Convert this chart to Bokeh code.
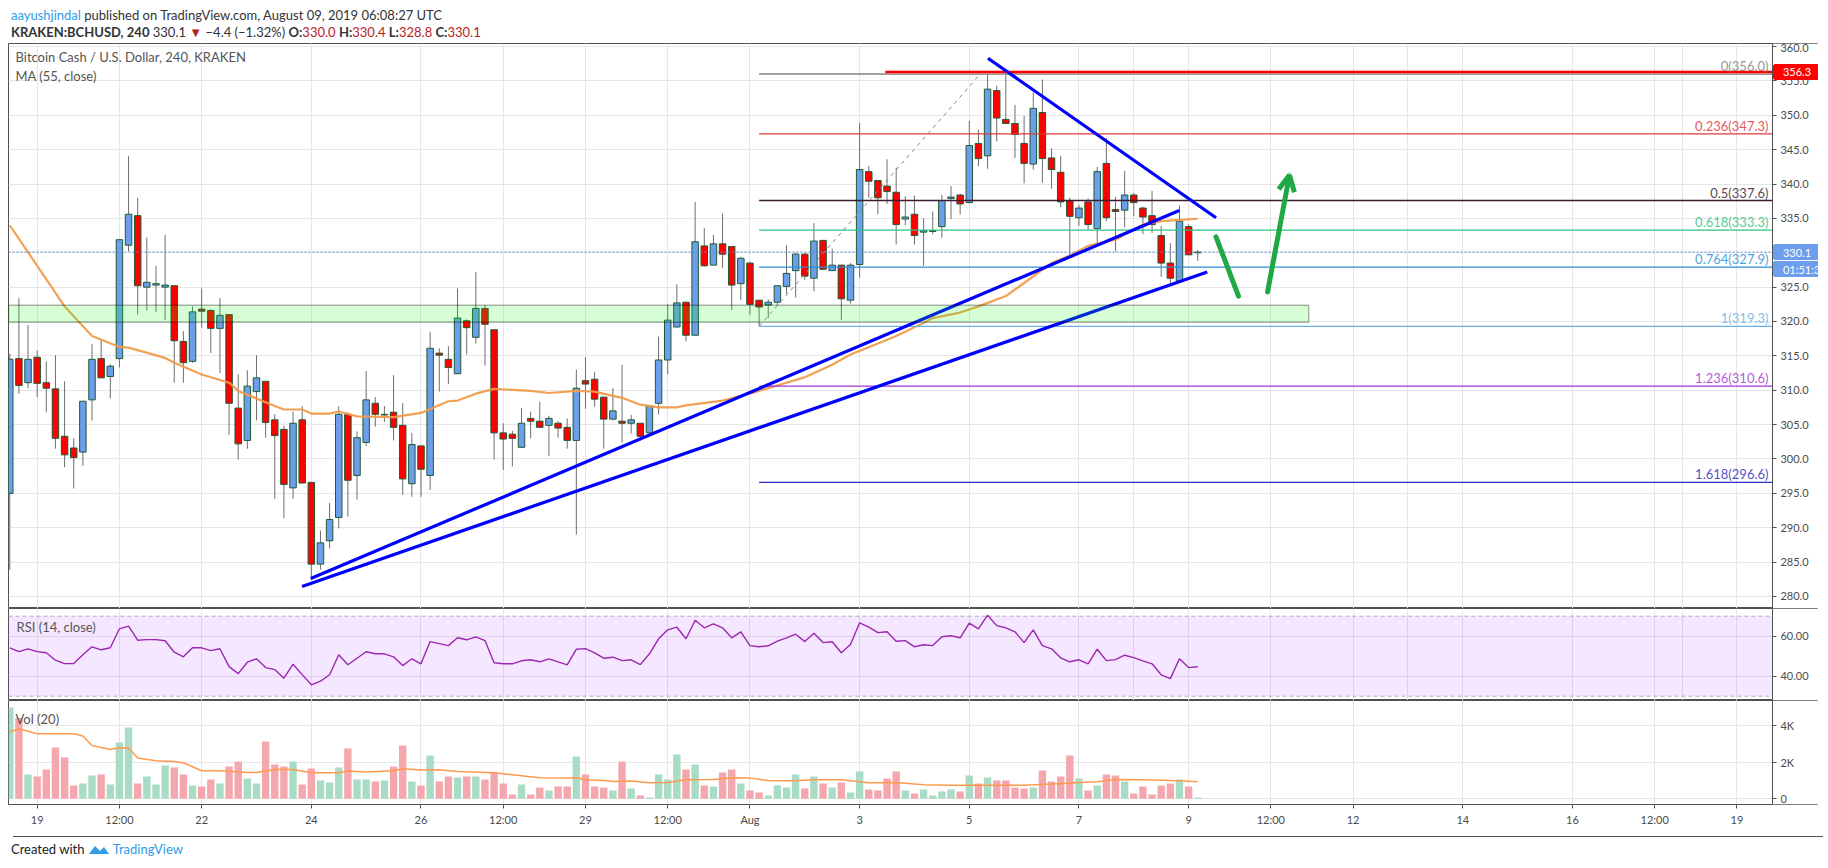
import numpy as np
from bokeh.plotting import figure
from bokeh.models import (Range1d, FixedTicker, Grid, BoxAnnotation, Label, Spacer,
                          ColumnDataSource, Div, NumeralTickFormatter, Arrow, OpenHead)
from bokeh.layouts import column, row
from bokeh.embed import file_html
from bokeh.resources import INLINE

# ---------------- data ----------------
opens = [295.0, 314.6, 311.1, 314.8, 311.1, 310.2, 303.3, 301.6, 301.0, 308.6,
         314.6, 312.0, 314.6, 331.1, 335.4, 325.0, 325.3, 325.0, 325.2, 317.1,
         314.2, 321.8, 321.6, 319.0, 321.0, 307.4, 302.7, 309.8, 311.3, 305.7,
         304.3, 295.8, 305.7, 296.6, 284.7, 288.1, 291.5, 306.5, 297.6, 302.4,
         308.1, 306.4, 306.8, 304.9, 296.4, 301.9, 297.6, 315.4, 314.5, 312.4,
         320.1, 317.7, 321.9, 318.8, 303.8, 303.6, 301.7, 305.9, 305.5, 304.9,
         305.2, 304.6, 302.7, 311.4, 311.6, 309.0, 305.8, 305.5, 305.2, 305.2,
         303.8, 308.1, 314.4, 319.2, 322.8, 318.0, 331.0, 328.2, 331.3, 330.9,
         325.5, 328.5, 323.1, 322.4, 322.8, 325.1, 327.4, 329.8, 326.3, 331.8,
         327.4, 328.2, 323.1, 328.3, 341.8, 340.5, 339.7, 338.8, 334.9, 335.6,
         333.0, 333.1, 333.8, 337.9, 338.4, 337.3, 345.9, 344.1, 353.6, 349.4,
         348.8, 345.9, 342.9, 350.4, 343.8, 341.7, 337.6, 335.1, 337.4, 333.5,
         343.0, 336.3, 336.2, 338.4, 336.5, 335.4, 332.5, 328.5, 325.9, 333.8,
         330.0]
highs = [315.3, 323.4, 319.5, 315.8, 314.2, 315.1, 311.3, 303.0, 308.4, 316.7,
         317.3, 313.8, 331.9, 344.1, 338.0, 332.2, 328.1, 332.6, 325.3, 318.6,
         322.2, 324.8, 321.8, 323.4, 321.0, 312.3, 312.9, 315.1, 311.3, 306.5,
         304.8, 306.9, 307.7, 296.6, 289.6, 293.6, 307.7, 306.8, 304.0, 312.8,
         309.0, 307.7, 312.2, 308.1, 303.8, 302.0, 318.5, 316.1, 316.4, 324.8,
         320.3, 327.2, 322.4, 318.8, 305.2, 304.1, 307.4, 306.9, 308.3, 306.3,
         305.5, 305.9, 313.0, 314.8, 312.7, 309.0, 310.3, 313.7, 306.4, 305.2,
         307.7, 317.8, 322.5, 325.4, 322.8, 337.4, 333.6, 332.6, 335.7, 330.9,
         329.4, 328.7, 323.1, 323.2, 325.2, 331.1, 330.0, 330.0, 334.3, 331.8,
         330.6, 328.2, 328.5, 348.9, 342.6, 340.5, 343.6, 342.4, 338.2, 338.3,
         335.0, 336.0, 338.4, 339.7, 338.6, 349.2, 347.9, 356.0, 354.3, 355.9,
         351.5, 349.9, 353.3, 355.2, 345.2, 344.1, 338.0, 337.0, 337.9, 342.5,
         346.7, 338.1, 341.9, 338.7, 336.7, 339.0, 333.9, 331.4, 336.9, 334.1,
         330.4]
lows = [283.9, 309.5, 310.3, 309.0, 306.8, 301.5, 298.8, 295.7, 299.0, 305.6,
        311.8, 308.8, 313.3, 330.2, 321.0, 321.6, 321.4, 320.2, 311.1, 311.1,
        314.0, 319.1, 315.4, 312.5, 303.5, 299.9, 301.5, 305.6, 303.1, 294.2,
        291.4, 294.2, 296.5, 282.4, 283.9, 287.0, 289.9, 291.6, 294.1, 301.9,
        304.7, 305.4, 302.7, 294.8, 294.5, 294.5, 295.5, 309.8, 310.9, 312.4,
        315.2, 316.8, 313.6, 299.9, 298.4, 298.9, 301.7, 303.0, 304.5, 300.4,
        303.1, 301.5, 289.0, 307.3, 307.6, 301.5, 305.6, 302.4, 303.7, 302.7,
        303.4, 306.5, 312.3, 319.1, 317.1, 318.0, 328.0, 328.2, 327.8, 321.7,
        323.1, 321.0, 319.3, 320.5, 322.4, 324.0, 323.5, 326.0, 324.4, 327.5,
        327.4, 320.2, 322.6, 326.4, 338.0, 335.6, 337.1, 331.2, 334.0, 331.2,
        328.1, 332.7, 332.2, 334.9, 335.6, 337.2, 342.6, 342.2, 346.2, 348.8,
        343.8, 340.1, 342.1, 340.2, 339.3, 336.6, 329.5, 333.9, 333.3, 331.1,
        334.6, 330.2, 333.7, 335.3, 332.7, 332.9, 326.5, 325.5, 325.6, 329.7,
        328.8]
closes = [314.5, 310.7, 314.5, 311.0, 310.3, 303.0, 300.6, 300.2, 308.4, 314.5,
          311.8, 313.5, 331.9, 335.6, 325.2, 325.7, 325.5, 325.3, 317.2, 314.0,
          321.4, 321.5, 319.0, 320.9, 308.1, 302.2, 310.6, 311.8, 305.3, 303.4,
          296.3, 305.2, 296.5, 284.7, 287.8, 291.2, 306.5, 296.9, 303.1, 308.6,
          306.5, 306.5, 304.6, 297.1, 302.1, 298.5, 316.1, 315.1, 313.3, 320.5,
          319.1, 321.9, 319.6, 303.8, 302.9, 303.0, 305.2, 305.5, 304.6, 305.9,
          304.5, 302.7, 310.3, 310.9, 308.7, 305.8, 307.0, 305.2, 305.7, 303.3,
          307.7, 314.4, 320.2, 322.7, 318.0, 331.6, 328.1, 331.3, 329.8, 325.3,
          329.2, 322.5, 322.1, 322.8, 325.2, 327.0, 329.8, 326.6, 331.7, 327.6,
          328.2, 323.3, 328.2, 342.1, 340.4, 338.0, 338.9, 334.1, 335.2, 332.5,
          333.2, 333.2, 337.6, 338.1, 337.1, 345.6, 343.7, 353.8, 349.6, 348.8,
          347.2, 343.0, 351.0, 343.7, 342.1, 337.4, 335.3, 336.5, 334.1, 341.8,
          335.1, 336.0, 338.4, 337.3, 335.2, 334.1, 328.5, 326.3, 334.6, 329.7,
          330.1]
volumes = [4987, 4404, 1329, 1219, 1602, 2803, 2257, 728, 837, 1274,
           1329, 783, 3076, 3895, 837, 1219, 783, 1820, 1711, 1329,
           728, 673, 1056, 837, 1765, 2038, 1110, 837, 3130, 1875,
           1765, 2038, 783, 1656, 1001, 892, 1711, 2748, 1056, 1056,
           946, 1001, 1765, 2912, 946, 728, 2366, 946, 1219, 1165,
           1219, 1219, 1056, 1420, 837, 237, 783, 237, 619, 455,
           673, 673, 2311, 1329, 673, 619, 455, 2038, 564, 182,
           73, 1329, 1056, 2421, 1602, 1875, 728, 673, 1438, 1602,
           837, 455, 346, 182, 728, 619, 1329, 564, 1219, 837,
           619, 892, 346, 1492, 510, 455, 1110, 1492, 455, 291,
           510, 182, 400, 510, 400, 1274, 837, 1165, 1001, 1001,
           619, 564, 619, 1547, 946, 1219, 2366, 1110, 455, 728,
           1329, 1274, 946, 291, 673, 237, 728, 837, 1056, 673,
           73]
rsi = [54.2, 52.3, 53.7, 52.3, 51.7, 48.0, 46.3, 46.3, 50.7, 54.7,
       53.2, 54.2, 63.7, 65.0, 58.0, 58.3, 58.3, 57.7, 52.0, 49.7,
       54.2, 54.2, 52.8, 53.7, 44.8, 41.3, 47.0, 48.7, 44.3, 43.3,
       39.0, 46.0, 40.8, 35.7, 37.5, 40.7, 50.7, 45.7, 49.0, 52.2,
       51.2, 51.2, 49.7, 45.3, 48.7, 46.2, 57.3, 56.3, 55.3, 59.2,
       58.2, 59.7, 57.8, 46.7, 46.2, 46.2, 47.7, 48.2, 47.2, 48.7,
       47.2, 45.7, 53.5, 53.8, 51.7, 49.0, 49.5, 47.8, 48.2, 45.8,
       51.2, 58.7, 63.2, 64.5, 58.7, 68.0, 64.2, 66.2, 64.2, 59.2,
       62.2, 55.3, 54.7, 55.2, 57.5, 59.2, 61.0, 57.3, 61.5, 56.8,
       57.2, 51.7, 55.8, 66.7, 64.5, 61.8, 62.2, 57.5, 57.8, 54.7,
       55.7, 55.3, 59.7, 60.2, 59.2, 66.5, 63.7, 70.5, 65.3, 64.2,
       62.2, 56.8, 63.2, 55.3, 53.7, 49.2, 47.2, 48.2, 46.2, 53.5,
       47.8, 48.3, 50.5, 49.3, 47.7, 46.2, 40.7, 38.8, 48.7, 44.3,
       44.7]
# MA(55) of close, read at these bar indices
ma_bar = [0, 6, 9, 12, 13, 17, 18, 21, 24, 25, 29, 30, 32, 33, 35, 36, 38, 42, 45, 48,
          49, 51, 53, 55, 57, 59, 62, 64, 67, 69, 71, 73, 74, 78, 81, 83, 87, 90, 92, 95,
          97, 100, 101, 104, 106, 109, 111, 114, 116, 118, 121, 124, 126, 130]
ma_val = [334.0, 322.2, 317.9, 316.3, 316.2, 314.7, 314.0, 312.3, 311.1, 309.9, 307.7, 307.2,
          307.2, 306.6, 306.6, 306.9, 306.2, 306.1, 306.7, 308.4, 308.5, 309.5, 310.2, 310.05,
          309.9, 309.6, 309.9, 309.8, 308.9, 307.9, 307.5, 307.5, 307.8, 308.5, 309.5, 310.3,
          311.9, 313.7, 315.2, 316.8, 317.9, 319.8, 320.5, 321.3, 322.2, 323.7, 325.6, 328.5,
          329.6, 331.0, 331.9, 334.1, 334.6, 334.95]
# volume MA(20), read at these bar indices
vma_bar = [0, 1, 3, 7, 8, 9, 11, 12, 13, 14, 16, 18, 19, 21, 23, 26, 27, 29, 31, 33, 36, 37,
           39, 42, 43, 45, 47, 49, 53, 54, 58, 61, 62, 63, 65, 66, 68, 70, 72, 74, 77, 79,
           81, 83, 86, 88, 91, 94, 97, 100, 103, 107, 111, 114, 116, 117, 119, 121, 124,
           128, 130]
vma_val = [3640, 3822, 3549, 3549, 3422, 2912, 2694, 2785, 2766, 2220, 2075, 2038, 1966, 1529,
           1529, 1438, 1438, 1602, 1602, 1420, 1420, 1511, 1456, 1529, 1638, 1565, 1583, 1492,
           1420, 1365, 1147, 1128, 1147, 1037, 1000, 950, 965, 874, 892, 1037, 1056, 1147,
           1128, 1001, 983, 1037, 1037, 874, 892, 764, 746, 746, 746, 801, 855, 892, 928,
           1056, 1037, 983, 928]

bar_hours = 4
first_bar_day = -0.5          # days from 19 Jul 00:00 (first bar: 18 Jul 12:00)

tick_days = [0, 1.5, 3, 5, 7, 8.5, 10, 11.5, 13, 15, 17, 19, 21, 22.5, 24, 26, 28, 29.5, 31]
tick_labels = ['19', '12:00', '22', '24', '26', '12:00', '29', '12:00', 'Aug', '3', '5', '7',
               '9', '12:00', '12', '14', '16', '12:00', '19']
price_grid = list(range(280, 361, 5))
price_labelled = [v_ for v_ in price_grid if v_ != 330]   # 330.0 sits under the last-price tag

fib_ratio = ['0', '0.236', '0.5', '0.618', '0.764', '1', '1.236', '1.618']
fib_price = [356.0, 347.3, 337.6, 333.3, 327.9, 319.3, 310.6, 296.6]
fib_color = ['#808080', '#e0383b', '#3d1b30', '#2fc283', '#2b8fd8', '#69afe6', '#a636d6', '#2d2dc2']
fib_low_bar = 82
fib_high_day = 17.2

resistance_price = 356.3
resistance_start_day = 15.47
zone_low, zone_high, zone_end_day = 319.9, 322.35, 23.19
last_price = 330.1
countdown = '01:51:37'

# trend lines: (day0, price0, day1, price1)
trend_x0 = [4.99, 4.83, 17.34]
trend_y0 = [282.6, 281.45, 358.3]
trend_x1 = [20.83, 21.34, 21.50]
trend_y1 = [336.15, 327.2, 335.1]
# green arrows
down_arrow = (21.50, 332.3, 21.91, 323.7)
up_arrow = (22.44, 324.3, 22.84, 341.3)

# ---------------- derived ----------------
n = len(opens)
t = first_bar_day + np.arange(n) * bar_hours / 24.0
o = np.array(opens); c = np.array(closes)
up = c >= o
body_fill = np.where(up, '#6d9eeb', '#ff0000')
vol_fill = np.where(up, '#a9dcc5', '#f5a7ae')

FONT = 'Lato'
W = 1810
X0 = -0.523          # left edge of the plot
X1 = 31.649          # where the price scale starts
XEND = 32.488        # right edge of the price scale
xr = Range1d(X0, XEND)
GRID = '#e6e6e6'
BORDER = '#505050'
AXTXT = '#4a4a4a'
NB = '\u00a0'


def style_axis(ax, line=True):
    ax.axis_line_color = BORDER if line else None
    ax.major_tick_line_color = BORDER
    ax.minor_tick_line_color = None
    ax.major_tick_in = 0
    ax.major_tick_out = 4
    ax.major_label_standoff = 4
    ax.major_label_text_font = FONT
    ax.major_label_text_font_size = '11px'
    ax.major_label_text_color = AXTXT


def base(height, yr, bottom=0):
    f = figure(width=W, height=height, x_range=xr, y_range=yr, output_backend='svg',
               toolbar_location=None, x_axis_location=('below' if bottom else None),
               y_axis_location='right', min_border_left=0, min_border_right=0,
               min_border_top=0, min_border_bottom=bottom)
    f.outline_line_color = BORDER
    f.outline_line_width = 1
    f.background_fill_color = 'white'
    f.border_fill_color = 'white'
    f.add_layout(Grid(dimension=0, ticker=FixedTicker(ticks=tick_days),
                      grid_line_color=GRID, grid_line_width=1))
    # price-scale strip: the axis sits at X1, its labels to the right
    f.yaxis[0].fixed_location = X1
    style_axis(f.yaxis[0])
    f.add_layout(BoxAnnotation(left=X1, fill_color='white', fill_alpha=1.0, line_color=None,
                               level='underlay'))
    return f

# ---------------- main price pane ----------------
p = base(565, Range1d(278.25, 360.44))
p.yaxis[0].ticker = FixedTicker(ticks=price_labelled)
p.yaxis[0].formatter = NumeralTickFormatter(format='0.0')
p.ygrid.grid_line_color = GRID
p.ygrid.ticker = FixedTicker(ticks=price_grid)

src = ColumnDataSource(dict(t=t, h=highs, l=lows, top=np.maximum(o, c), bot=np.minimum(o, c),
                            fill=body_fill))
p.segment(x0='t', y0='l', x1='t', y1='h', source=src, line_color='#6e6e6e', line_width=1)
p.vbar(x='t', width=0.118, top='top', bottom='bot', source=src, fill_color='fill',
       line_color='#1f5a35', line_width=1)

p.line(t[ma_bar], ma_val, line_color='#f09c4a', line_width=2.2, line_alpha=0.95)

# current price dotted line
p.segment(x0=[X0], y0=[last_price], x1=[X1], y1=[last_price], line_color='#5b8ddb',
          line_dash='2 2', line_width=1)

# fib retracement
fx0 = t[fib_low_bar]
for r_, pr, col in zip(fib_ratio, fib_price, fib_color):
    p.segment(x0=[fx0], y0=[pr], x1=[X1], y1=[pr], line_color=col, line_width=1.3)
    p.add_layout(Label(x=X1, y=pr, text=f'{r_}({pr:.1f})', text_align='right',
                       text_baseline='bottom', x_offset=-4, y_offset=0, text_color=col,
                       text_font=FONT, text_font_size='13px', text_alpha=0.85))
p.segment(x0=[fx0], y0=[fib_price[-3]], x1=[fib_high_day], y1=[fib_price[0]],
          line_color='#8a8a8a', line_dash='4 4', line_width=1)

# resistance line
p.segment(x0=[resistance_start_day], y0=[resistance_price], x1=[X1], y1=[resistance_price],
          line_color='#ff6666', line_width=4.5, line_alpha=0.45)
p.segment(x0=[resistance_start_day], y0=[resistance_price], x1=[X1], y1=[resistance_price],
          line_color='#ff0000', line_width=2)

# support zone (drawn over candles, translucent)
p.add_layout(BoxAnnotation(bottom=zone_low, top=zone_high, right=zone_end_day,
                           fill_color='#00ff00', fill_alpha=0.16, line_color='black',
                           line_width=1.5))

# trend lines
p.segment(x0=trend_x0, y0=trend_y0, x1=trend_x1, y1=trend_y1, line_color='#0000ff',
          line_width=3.2)

# green arrows
p.segment(x0=[down_arrow[0]], y0=[down_arrow[1]], x1=[down_arrow[2]], y1=[down_arrow[3]],
          line_color='#1fa843', line_width=5, line_cap='round')
p.add_layout(Arrow(x_start=up_arrow[0], y_start=up_arrow[1], x_end=up_arrow[2], y_end=up_arrow[3],
                   line_color='#1fa843', line_width=5, line_cap='round',
                   end=OpenHead(size=16, line_color='#1fa843', line_width=5)))

# titles
p.add_layout(Label(x=X0, y=358.5, x_offset=7, text='Bitcoin Cash / U.S. Dollar, 240, KRAKEN',
                   text_baseline='middle', text_color='#555555', text_font=FONT,
                   text_font_size='13px'))
p.add_layout(Label(x=X0, y=355.7, x_offset=7, text='MA (55, close)', text_baseline='middle',
                   text_color='#555555', text_font=FONT, text_font_size='13px'))


def tag(fig, y, text, bg, yoff=0):
    fig.add_layout(Label(x=X1, y=y, text=NB * 3 + text + NB * 4, text_align='left',
                         text_baseline='middle', x_offset=2, y_offset=yoff, text_color='white',
                         text_font=FONT, text_font_size='11px', background_fill_color=bg,
                         background_fill_alpha=1.0, border_line_color=bg,
                         border_line_width=3))

tag(p, resistance_price, f'{resistance_price:.1f}', '#ff0000')
tag(p, last_price, f'{last_price:.1f}', '#6d9eeb')
tag(p, last_price, countdown, '#6d9eeb', yoff=-17)

# ---------------- RSI pane ----------------
r = base(92, Range1d(27.85, 73.85))
r.yaxis[0].ticker = FixedTicker(ticks=[40, 60])
r.yaxis[0].formatter = NumeralTickFormatter(format='0.00')
r.ygrid.ticker = FixedTicker(ticks=[40, 60])
r.ygrid.grid_line_color = GRID
r.add_layout(BoxAnnotation(bottom=30, top=70, right=X1, fill_color='#9915ff', fill_alpha=0.1,
                           line_color=None, level='underlay'))
r.segment(x0=[X0, X0], y0=[30, 70], x1=[X1, X1], y1=[30, 70], line_color='#b4a8c0',
          line_dash='4 3', line_width=1)
r.line(t, rsi, line_color='#9b27af', line_width=1.4)
r.add_layout(Label(x=X0, y=64.85, x_offset=8, text='RSI (14, close)', text_baseline='middle',
                   text_color='#555555', text_font=FONT, text_font_size='13px'))

# ---------------- Volume pane ----------------
v = base(131, Range1d(-311, 5363), bottom=27)
v.yaxis[0].ticker = FixedTicker(ticks=[0, 2000, 4000])
v.yaxis[0].major_label_overrides = {0: '0', 2000: '2K', 4000: '4K'}
v.ygrid.ticker = FixedTicker(ticks=[0, 2000, 4000])
v.ygrid.grid_line_color = GRID
style_axis(v.xaxis[0], line=False)
v.xaxis[0].ticker = FixedTicker(ticks=tick_days)
v.xaxis[0].major_label_overrides = {d: s for d, s in zip(tick_days, tick_labels)}
vsrc = ColumnDataSource(dict(t=t, vol=volumes, fill=vol_fill))
v.vbar(x='t', width=0.135, top='vol', bottom=0, source=vsrc, fill_color='fill', line_color=None)
v.line(t[vma_bar], vma_val, line_color='#ff9a4d', line_width=1.5)
v.add_layout(Label(x=X0, y=4364, x_offset=7, text='Vol (20)', text_baseline='middle',
                   text_color='#555555', text_font=FONT, text_font_size='13px'))

# ---------------- header / footer ----------------
RED = '#b71c1c'
header = Div(width=W, height=33, text=(
    f'<div style="font-family:{FONT};font-size:13px;line-height:17px;color:#333;'
    'padding-top:2px;position:relative;left:-2px;white-space:nowrap">'
    '<span style="color:#2e9be6">aayushjindal</span> published on TradingView.com, '
    'August 09, 2019 06:08:27 UTC<br>'
    '<b>KRAKEN:BCHUSD, 240</b> 330.1 <span style="color:' + RED + '">&#9660;</span> '
    '&minus;4.4 (&minus;1.32%) <b>O:</b><span style="color:' + RED + '">330.0</span> '
    '<b>H:</b><span style="color:' + RED + '">330.4</span> '
    '<b>L:</b><span style="color:' + RED + '">328.8</span> '
    '<b>C:</b><span style="color:' + RED + '">330.1</span></div>'))

footer = Div(width=W, height=30, text=(
    f'<div style="width:{W}px;border-top:1px solid {BORDER};font-family:{FONT};font-size:13px;'
    'color:#222;padding-top:3px;box-sizing:border-box;white-space:nowrap">'
    '<span style="position:relative;left:-2px">Created with '
    '<svg width="22" height="12" viewBox="0 0 22 12" style="vertical-align:-1px">'
    '<path d="M1 11 L7 3 L12 8 L16 4 L21 11 Z" fill="#2e9be6"/></svg> '
    '<span style="color:#2e9be6">TradingView</span></span></div>'))

layout = row(Spacer(width=8, height=10), column(header, p, r, v, footer))
open('out.html', 'w').write(file_html(layout, INLINE))
